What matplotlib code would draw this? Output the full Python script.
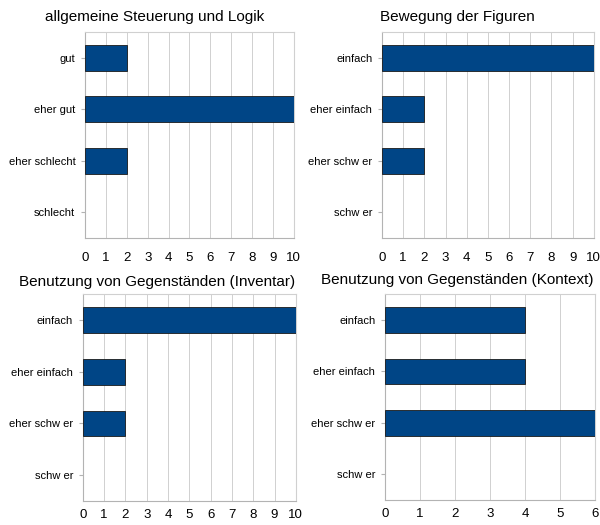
import matplotlib
matplotlib.use("Agg")
import matplotlib.pyplot as plt

plt.rcParams['font.family'] = ['Liberation Sans', 'DejaVu Sans']

# data per panel (top to bottom order of categories)
titles = [
    "allgemeine Steuerung und Logik",
    "Bewegung der Figuren",
    "Benutzung von Gegenständen (Inventar)",
    "Benutzung von Gegenständen (Kontext)",
]
cats_logik = ["gut", "eher gut", "eher schlecht", "schlecht"]
cats_schwer = ["einfach", "eher einfach", "eher schw er", "schw er"]

vals_logik = [2, 10, 2, 0]
vals_figuren = [10, 2, 2, 0]
vals_inventar = [10, 2, 2, 0]
vals_kontext = [4, 4, 6, 0]

xmax = [10, 10, 10, 6]

fig = plt.figure(figsize=(6, 5.25), dpi=100)

# axes rectangles in figure fractions
rects = [
    [0.1417, 0.5467, 0.348, 0.392],
    [0.6367, 0.5467, 0.353, 0.392],
    [0.138, 0.0457, 0.355, 0.394],
    [0.6417, 0.0476, 0.350, 0.392],
]
title_pos = [(155, 17), (457, 17), (157, 282), (457, 280)]
xpad = [10, 10, 6, 6]

panels = [
    (cats_logik, vals_logik),
    (cats_schwer, vals_figuren),
    (cats_schwer, vals_inventar),
    (cats_schwer, vals_kontext),
]

for i, (cats, vals) in enumerate(panels):
    ax = fig.add_axes(rects[i])
    pos = list(range(len(cats)))
    # no outline on empty bars
    lw = [0.6 if v > 0 else 0 for v in vals]
    ax.barh(pos, vals, height=0.5, color="#004586", edgecolor="#1a1a1a",
            linewidth=lw, zorder=3)
    ax.set_ylim(len(cats) - 0.5, -0.5)
    ax.set_xlim(0, xmax[i])
    ax.set_yticks(pos)
    ax.set_yticklabels(cats, fontsize=8)
    ax.set_xticks(range(xmax[i] + 1))
    ax.tick_params(axis="x", length=0, labelsize=9.5, pad=xpad[i])
    ax.tick_params(axis="y", length=3, color="#b3b3b3", pad=4)
    ax.grid(axis="x", color="#d0d0d0", linewidth=0.7, zorder=0)
    for s in ax.spines.values():
        s.set_color("#d0d0d0")
        s.set_linewidth(0.8)
    ax.spines["left"].set_color("#b3b3b3")
    ax.spines["bottom"].set_color("#b3b3b3")
    tx, ty = title_pos[i]
    fig.text(tx / 600, 1 - ty / 525, titles[i], fontsize=11,
             ha="center", va="center")

plt.savefig("out.png", dpi=100)
